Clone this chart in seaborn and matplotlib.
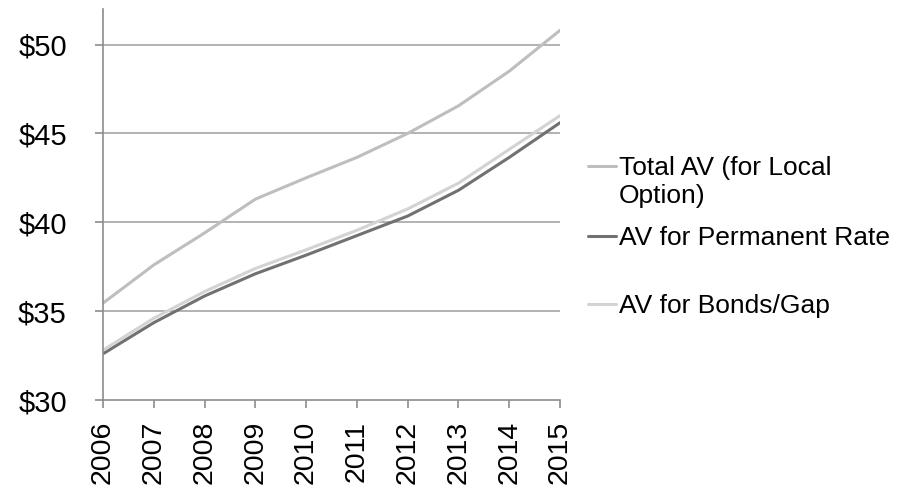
import matplotlib
matplotlib.use("Agg")
import matplotlib.pyplot as plt
from matplotlib.lines import Line2D
import seaborn as sns
import pandas as pd

years = [2006, 2007, 2008, 2009, 2010, 2011, 2012, 2013, 2014, 2015]
total_av = [35.45, 37.6, 39.4, 41.3, 42.5, 43.65, 45.0, 46.55, 48.5, 50.8]
permanent_av = [32.6, 34.35, 35.85, 37.1, 38.15, 39.25, 40.35, 41.8, 43.65, 45.6]
bonds_av = [32.8, 34.6, 36.1, 37.4, 38.45, 39.55, 40.75, 42.2, 44.1, 46.0]

series_names = ["Total AV (for Local\nOption)", "AV for Permanent Rate", "AV for Bonds/Gap"]
series_colors = ["#BEBEBE", "#717171", "#D3D3D3"]
y_ticks = [30, 35, 40, 45, 50]

df = pd.DataFrame({
    "year": years * 3,
    "value": total_av + permanent_av + bonds_av,
    "series": [series_names[0]] * len(years) + [series_names[1]] * len(years) + [series_names[2]] * len(years),
})

sns.set_style("white")
plt.rcParams["font.family"] = ["Liberation Sans", "DejaVu Sans"]

W, H = 897, 490
fig = plt.figure(figsize=(W / 100, H / 100), dpi=100)
ax = fig.add_axes([103 / W, 90 / H, 457 / W, 391 / H])

sns.lineplot(data=df, x="year", y="value", hue="series", hue_order=series_names,
             palette=series_colors, linewidth=2.2, ax=ax, legend=False)

ax.set_xlim(2006, 2015)
ax.set_ylim(30, 52)
ax.set_yticks(y_ticks)
ax.set_yticklabels([f"${v}" for v in y_ticks], fontsize=21)
ax.set_xticks(years)
ax.set_xticklabels([str(y) for y in years], rotation=90, fontsize=20.5)
ax.set_xlabel("")
ax.set_ylabel("")

for v in y_ticks[1:]:
    ax.axhline(v, color="#A6A6A6", linewidth=1.2, zorder=0)

for side in ["top", "right"]:
    ax.spines[side].set_visible(False)
for side in ["left", "bottom"]:
    ax.spines[side].set_color("#8C8C8C")
    ax.spines[side].set_linewidth(1.2)

ax.tick_params(axis="y", which="major", direction="out", length=6, width=1.2,
               color="#8C8C8C", pad=20, left=True, labelcolor="black")
ax.tick_params(axis="x", which="major", direction="out", length=6, width=1.2,
               color="#8C8C8C", pad=9, bottom=True, labelcolor="black")

# Legend: a short line sample beside each name, first line of each name
# aligned with its sample
handle_x = (588, 616)
text_x = 619
handle_y = [166, 236, 304]
line_gap = 28
for name, color, hy in zip(series_names, series_colors, handle_y):
    fig.add_artist(Line2D([handle_x[0] / W, handle_x[1] / W], [1 - hy / H, 1 - hy / H],
                          color=color, linewidth=2.2, transform=fig.transFigure))
    for i, part in enumerate(name.split("\n")):
        baseline = hy + 9 + i * line_gap
        fig.text(text_x / W, 1 - baseline / H, part, fontsize=19,
                 ha="left", va="baseline", color="black")

fig.savefig("out.png", dpi=100)
